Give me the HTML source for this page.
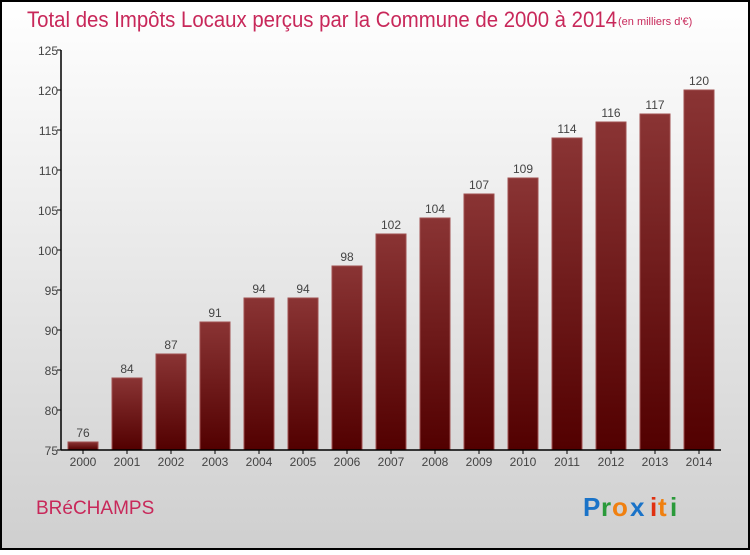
<!DOCTYPE html>
<html><head><meta charset="utf-8"><style>
body{margin:0;width:750px;height:550px;overflow:hidden;font-family:"Liberation Sans",sans-serif}
</style></head><body>
<svg id="chart" width="750" height="550" xmlns="http://www.w3.org/2000/svg">
<defs>
<linearGradient id="bg" x1="0" y1="0" x2="0" y2="1"><stop offset="0" stop-color="#ffffff"/><stop offset="1" stop-color="#cfcfcf"/></linearGradient>
<linearGradient id="bar" x1="0" y1="0" x2="0" y2="1"><stop offset="0" stop-color="#8a3434"/><stop offset="1" stop-color="#520000"/></linearGradient>
</defs>
<rect x="1" y="1" width="748" height="548" fill="url(#bg)" stroke="#000" stroke-width="2"/>
<text x="27" y="27" font-size="22" fill="#c8285a" textLength="590" lengthAdjust="spacingAndGlyphs">Total des Impôts Locaux perçus par la Commune de 2000 à 2014</text>
<text x="618" y="25" font-size="11" fill="#c8285a">(en milliers d'€)</text>
<text x="36" y="514" font-size="19" fill="#c8285a">BRéCHAMPS</text>
<g font-size="26" font-weight="bold" font-family="'Liberation Sans',sans-serif">
<text x="583" y="516" fill="#1a73c8">P</text><text x="601" y="516" fill="#2a9a3a">r</text><text x="612" y="516" fill="#f08010">o</text><text x="630" y="516" fill="#1a73c8">x</text><text x="650" y="516" fill="#e03010">i</text><text x="658" y="516" fill="#f08010">t</text><text x="670" y="516" fill="#2a9a3a">i</text>
</g>
<g id="plot"></g>
</svg>
<script>
const years=["2000","2001","2002","2003","2004","2005","2006","2007","2008","2009","2010","2011","2012","2013","2014"];
const values=[76,84,87,91,94,94,98,102,104,107,109,114,116,117,120];
const yTicks=[75,80,85,90,95,100,105,110,115,120,125];
(function(){
const NS="http://www.w3.org/2000/svg";
const g=document.getElementById('plot');
const yMin=75,yMax=125,pTop=50,pBot=450,pLeft=61,pRight=721;
const ys=v=>pBot-(v-yMin)/(yMax-yMin)*(pBot-pTop);
const step=(pRight-pLeft)/years.length;
const xs=i=>pLeft+step*(i+0.5);
function el(t,a){const e=document.createElementNS(NS,t);for(const k in a)e.setAttribute(k,a[k]);g.appendChild(e);return e;}
values.forEach((v,i)=>{
 const r=el('rect',{x:xs(i)-15,y:ys(v),width:30,height:pBot-ys(v),fill:'url(#bar)',stroke:'#a05050','stroke-width':1});
 
 
 const t=el('text',{x:xs(i),y:ys(v)-5,'text-anchor':'middle','font-size':12,fill:'#444'});t.textContent=v;
 
 
 const l=el('text',{x:xs(i),y:pBot+16,'text-anchor':'middle','font-size':12,fill:'#444'});l.textContent=years[i];
 
 
 el('line',{x1:xs(i),x2:xs(i),y1:pBot,y2:pBot+4,stroke:'#000'});
});
yTicks.forEach(v=>{
 el('line',{x1:pLeft-4,x2:pLeft,y1:ys(v),y2:ys(v),stroke:'#000'});
 const t=el('text',{x:pLeft-3,y:ys(v)+5,'text-anchor':'end','font-size':12,fill:'#444'});t.textContent=v;
 
 
});
const ya=el('line',{x1:pLeft,x2:pLeft,y1:pTop,y2:pBot,stroke:'#000','stroke-width':1.5});


const xa=el('line',{x1:pLeft,x2:pRight,y1:pBot,y2:pBot,stroke:'#000','stroke-width':1.5});


})();
</script>
</body></html>
